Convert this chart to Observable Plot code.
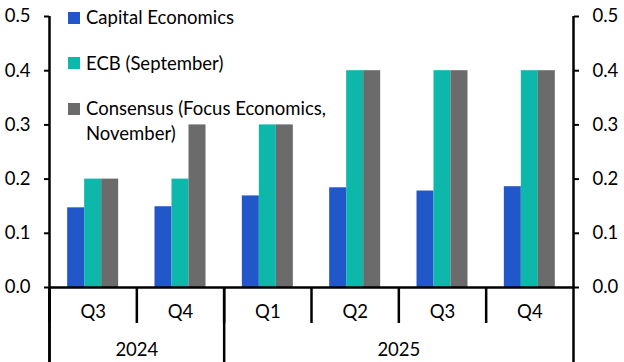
<!DOCTYPE html>
<html>
<head>
<meta charset="utf-8">
<script src="https://cdn.jsdelivr.net/npm/d3@7"></script>
<script src="https://cdn.jsdelivr.net/npm/@observablehq/plot@0.6"></script>
<style>
  body { margin: 0; background: #fff; }
  #wrap { position: relative; width: 624px; height: 362px; font-family: Lato, "Open Sans", sans-serif; color: #000; }
  #legend { position: absolute; left: 68px; top: 5px; font-size: 18.5px; line-height: 25px; }
  .item { position: relative; padding-left: 18px; width: 265px; margin-bottom: 20.5px; }
  .sw { position: absolute; left: 0; top: 6.5px; width: 12px; height: 12px; }
</style>
</head>
<body>
<div id="wrap"></div>
<script>
// ---- data ----
const years = ["2024", "2024", "2025", "2025", "2025", "2025"];
const quarters = ["Q3", "Q4", "Q1", "Q2", "Q3", "Q4"];
const seriesNames = ["Capital Economics", "ECB (September)", "Consensus (Focus Economics, November)"];
const capitalEconomics = [0.147, 0.149, 0.169, 0.184, 0.178, 0.186];
const ecbSeptember = [0.2, 0.2, 0.3, 0.4, 0.4, 0.4];
const consensusNovember = [0.2, 0.3, 0.3, 0.4, 0.4, 0.4];
const yTicks = [0, 0.1, 0.2, 0.3, 0.4, 0.5];
const colors = ["#2157c9", "#0db8ab", "#6b6b6b"];

// ---- layout ----
const W = 624, H = 362;
const mL = 49, mR = 51, mT = 16, mB = 75;
const n = quarters.length;
const step = (W - mL - mR) / n;
const barW = 17;
const groupOuter = (step - barW * seriesNames.length) / 2;

const keys = quarters.map((q, i) => years[i] + " " + q);
const qRows = keys.map((k, i) => ({key: k, q: quarters[i], year: years[i]}));
const seriesValues = [capitalEconomics, ecbSeptember, consensusNovember];

// year groups: label at the middle of each year's span
const yearGroups = d3.groups(qRows, d => d.year).map(([year, rows]) => ({
  year, midKey: rows[Math.floor(rows.length / 2)].key, first: rows[0].key
}));
const lastKey = keys[keys.length - 1];

const barMarks = seriesValues.map((vals, j) =>
  Plot.barY(keys.map((k, i) => ({key: k, value: vals[i], series: seriesNames[j]})), {
    x: "key", y: "value", fill: colors[j],
    insetLeft: groupOuter + barW * j,
    insetRight: step - groupOuter - barW * (j + 1)
  })
);

const chart = Plot.plot({
  width: W, height: H,
  marginLeft: mL, marginRight: mR, marginTop: mT, marginBottom: mB,
  style: {fontFamily: "Lato, 'Open Sans', sans-serif", fontSize: "18px", background: "#fff", color: "#000"},
  x: {domain: keys, padding: 0, round: false, axis: null},
  y: {domain: [0, 0.5], axis: null},
  marks: [
    ...barMarks,
    // y axes
    Plot.axisY(yTicks, {anchor: "left", tickSize: 5, tickPadding: 14, tickFormat: d3.format(".1f"), label: null, strokeWidth: 2, fontSize: 18.5}),
    Plot.axisY(yTicks, {anchor: "right", tickSize: 5, tickPadding: 14, tickFormat: d3.format(".1f"), label: null, strokeWidth: 2, fontSize: 18.5}),
    // left & right axis lines extended to bottom
    Plot.ruleX([keys[0]], {x: d => d, dx: -step / 2, insetBottom: -mB, strokeWidth: 2.5}),
    Plot.ruleX([lastKey], {x: d => d, dx: step / 2, insetBottom: -mB, strokeWidth: 2.5}),
    // quarter separators
    Plot.ruleX(keys, {x: d => d, y1: 0, y2: 0, dx: -step / 2, insetBottom: -36, strokeWidth: 2.5}),
    // year separators
    Plot.ruleX(yearGroups, {x: "first", y1: 0, y2: 0, dx: -step / 2, insetBottom: -mB, strokeWidth: 2.5}),
    // baseline
    Plot.ruleY([0], {strokeWidth: 2.5}),
    // quarter labels
    Plot.text(qRows, {x: "key", y: 0, text: "q", dy: 25, fontSize: 18.5}),
    // year labels
    Plot.text(yearGroups, {x: "midKey", y: 0, text: "year", dx: -step / 2, dy: 63, fontSize: 18.5})
  ]
});

const wrap = document.getElementById("wrap");
wrap.appendChild(chart);

const legend = document.createElement("div");
legend.id = "legend";
seriesNames.forEach((name, j) => {
  const item = document.createElement("div");
  item.className = "item";
  const sw = document.createElement("span");
  sw.className = "sw";
  sw.style.background = colors[j];
  item.appendChild(sw);
  item.appendChild(document.createTextNode(name));
  legend.appendChild(item);
});
wrap.appendChild(legend);
</script>
</body>
</html>
